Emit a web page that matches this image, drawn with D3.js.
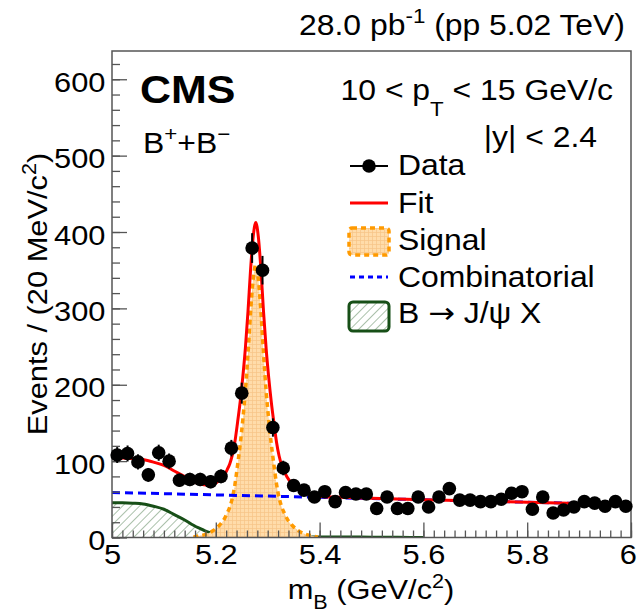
<!DOCTYPE html>
<html>
<head>
<meta charset="utf-8">
<script src="https://cdn.jsdelivr.net/npm/d3@7"></script>
<style>
body { margin: 0; background: #fff; }
text { font-family: "Liberation Sans", Arial, sans-serif; fill: #000; white-space: pre; }
</style>
</head>
<body>
<svg id="chart" width="638" height="615"></svg>
<script>
// B+ mass spectrum, 50 bins of 20 MeV between 5.0 and 6.0 GeV
var binLow = 5.0, binWidth = 0.02;
var counts = [108, 110, 99, 82, 111, 100, 75, 76, 76, 73,
              80, 117, 189, 379, 350, 144, 91, 68, 62, 53,
              60, 47, 59, 57, 57, 38, 53, 38, 38, 53,
              40, 53, 64, 49, 49, 47, 47, 50, 58, 60,
              37, 53, 32, 36, 40, 47, 45, 41, 47, 41];

// fit components at these masses
var curveMass = [5.00, 5.02, 5.04, 5.06, 5.08, 5.10, 5.12, 5.14,
                 5.157, 5.167, 5.177, 5.187, 5.197, 5.207, 5.217,
                 5.222, 5.227, 5.232, 5.237, 5.242, 5.247, 5.252, 5.257, 5.262, 5.267, 5.272, 5.277,
                 5.282, 5.287, 5.292, 5.297, 5.302, 5.307, 5.312, 5.317, 5.322, 5.327, 5.332, 5.337,
                 5.347, 5.357, 5.367, 5.377, 5.387, 5.397,
                 5.42, 5.45, 5.50, 5.55, 5.60,
                 5.70, 5.80, 5.90, 6.00];
var fitCurve = [104.5, 104.2, 103.4, 102.0, 98.7, 94.4, 87.1, 79.8,
                73.0, 70.8, 69.2, 68.8, 70.5, 74.9, 82.5,
                89.0, 96.7, 108.4, 126.2, 151.1, 178.0, 210.0, 247.9, 295.8, 350.7, 393.6, 412.6,
                393.5, 350.4, 295.3, 247.2, 209.1, 177.0, 149.9, 124.8, 106.7, 94.7, 86.6, 79.5,
                70.3, 64.1, 59.9, 57.3, 55.6, 53.9,
                53.0, 52.4, 51.4, 50.4, 49.4,
                47.8, 46.2, 44.6, 43.0];
var signalCurve = [null, null, null, null, null, null, null, null,
                   0.5, 2, 3.5, 6, 10, 16, 25,
                   32, 40, 52, 70, 95, 122, 154, 192, 240, 295, 338, 357,
                   338, 295, 240, 192, 154, 122, 95, 70, 52, 40, 32, 25,
                   16, 10, 6, 3.5, 2, 0.5,
                   null, null, null, null, null,
                   null, null, null, null];
var jpsiCurve = [45.5, 45.5, 45.0, 44.0, 41.0, 37.0, 30.0, 23.0,
                 16.0, 12.5, 9.5, 6.8, 4.7, 3.2, 2.0,
                 1.6, 1.3, 1.1, 1.0, 1.0, 1.0, 1.0, 1.0, 1.0, 1.0, 1.0, 1.0,
                 1.0, 1.0, 1.0, 1.0, 0.9, 0.9, 0.9, 0.9, 0.9, 0.9, 0.9, 0.9,
                 0.9, 0.9, 0.8, 0.8, 0.8, 0.8,
                 0.7, 0.6, 0.4, 0.2, 0.0,
                 null, null, null, null];
var combMass = [5.0, 6.0];
var combCurve = [59, 43];

var xTicks = [5, 5.2, 5.4, 5.6, 5.8, 6];
var yTicks = [0, 100, 200, 300, 400, 500, 600];

var svg = d3.select("#chart");
svg.append("rect").attr("width", 638).attr("height", 615).attr("fill", "#fff");

// note: plain "top" clashes with window.top
var pLeft = 112, pRight = 631, pTop = 51, pBottom = 537.5;
var x = d3.scaleLinear().domain([5, 6]).range([pLeft, pRight]);
var y = d3.scaleLinear().domain([0, 637]).range([pBottom, pTop]);

// text in the reference is a little wider than liberation sans
var sx = 1.1;
function label(g, tx, ty, size, anchor, parts, weight, rot) {
    var t = g.append("text")
        .attr("transform", "translate(" + tx + "," + ty + ")" + (rot ? " rotate(" + rot + ")" : "") + " scale(" + sx + ",1)")
        .attr("text-anchor", anchor)
        .style("font-size", size + "px")
        .style("font-weight", weight || "normal");
    var shift = 0;
    parts.forEach(function(p) {
        if (typeof p === "string") p = [p, 0];
        var off = p[1] * size;
        var ts = t.append("tspan")
            .attr("dy", off - shift)
            .style("font-size", (p[1] ? 0.7 * size : size) + "px")
            .text(p[0]);
        if (p[2]) ts.style("font-family", p[2]);
        shift = off;
    });
    return t;
}

var defs = svg.append("defs");
defs.append("clipPath").attr("id", "plotclip")
    .append("rect").attr("x", pLeft).attr("y", pTop).attr("width", pRight - pLeft).attr("height", pBottom - pTop);

var sigPat = defs.append("pattern").attr("id", "sigfill")
    .attr("patternUnits", "userSpaceOnUse").attr("width", 4).attr("height", 4);
sigPat.append("rect").attr("width", 4).attr("height", 4).attr("fill", "#ffdcaa");
sigPat.append("path").attr("d", "M0.5,0V4M0,0.5H4").attr("stroke", "#f6c486").attr("stroke-width", 0.7);

var hatch = defs.append("pattern").attr("id", "hatch")
    .attr("patternUnits", "userSpaceOnUse").attr("width", 6).attr("height", 6)
    .attr("patternTransform", "rotate(45)");
hatch.append("rect").attr("width", 6).attr("height", 6).attr("fill", "#fff");
hatch.append("line").attr("x1", 0).attr("y1", 0).attr("x2", 0).attr("y2", 6)
    .attr("stroke", "#7d9f7d").attr("stroke-width", 1.3);

function pts(vals, masses) {
    return (masses || curveMass).map(function(m, i) { return [m, vals[i]]; });
}
var has = function(d) { return d[1] != null; };
var line = d3.line().defined(has).x(function(d) { return x(d[0]); }).y(function(d) { return y(d[1]); })
    .curve(d3.curveMonotoneX);
var area = d3.area().defined(has).x(function(d) { return x(d[0]); }).y0(y(0)).y1(function(d) { return y(d[1]); })
    .curve(d3.curveMonotoneX);

var plot = svg.append("g").attr("clip-path", "url(#plotclip)");

// B -> J/psi X
plot.append("path").attr("d", area(pts(jpsiCurve))).attr("fill", "url(#hatch)");
plot.append("path").attr("d", line(pts(jpsiCurve))).attr("fill", "none")
    .attr("stroke", "#174f17").attr("stroke-width", 3);

// signal
plot.append("path").attr("d", area(pts(signalCurve))).attr("fill", "url(#sigfill)");
plot.append("path").attr("d", line(pts(signalCurve))).attr("fill", "none")
    .attr("stroke", "#ff9a00").attr("stroke-width", 3.5).attr("stroke-dasharray", "5,4");

// combinatorial
plot.append("path").attr("d", line(pts(combCurve, combMass))).attr("fill", "none")
    .attr("stroke", "#0000ff").attr("stroke-width", 3).attr("stroke-dasharray", "8,5");

// total fit
plot.append("path").attr("d", line(pts(fitCurve))).attr("fill", "none")
    .attr("stroke", "#ff0000").attr("stroke-width", 3);

// frame and ticks
svg.append("rect").attr("x", pLeft).attr("y", pTop).attr("width", pRight - pLeft).attr("height", pBottom - pTop)
    .attr("fill", "none").attr("stroke", "#555").attr("stroke-width", 1.5);

var yMinor = d3.range(0, 637, 20);
var xMinor = d3.range(0, 51).map(function(i) { return 5 + i * 0.02; });

var yAxisMinor = svg.append("g").attr("transform", "translate(" + pLeft + ",0)")
    .call(d3.axisLeft(y).tickValues(yMinor).tickSize(-8).tickFormat(""));
var yAxis = svg.append("g").attr("transform", "translate(" + pLeft + ",0)")
    .call(d3.axisLeft(y).tickValues(yTicks).tickSize(-15).tickPadding(6).tickFormat(d3.format("d")));
var xAxisMinor = svg.append("g").attr("transform", "translate(0," + pBottom + ")")
    .call(d3.axisBottom(x).tickValues(xMinor).tickSize(-7).tickFormat(""));
var xAxis = svg.append("g").attr("transform", "translate(0," + pBottom + ")")
    .call(d3.axisBottom(x).tickValues(xTicks).tickSize(-15).tickPadding(7).tickFormat(d3.format("")));

[yAxisMinor, yAxis, xAxisMinor, xAxis].forEach(function(a) {
    a.select(".domain").remove();
    a.selectAll(".tick line").attr("stroke", "#555").attr("stroke-width", 1.3);
});
yAxis.selectAll("text").attr("dy", "0.43em");
[yAxis, xAxis].forEach(function(a) {
    a.selectAll("text")
        .attr("fill", "#000")
        .style("font-family", "Liberation Sans, Arial, sans-serif")
        .style("font-size", "28px")
        .attr("transform", "scale(" + sx + ",1)");
});
// the last label sits on the page edge, pull it in a little
xAxis.selectAll("text").filter(function(d) { return d === 6; }).attr("x", -3);

// data points with poisson errors
var binCenters = counts.map(function(c, i) { return binLow + binWidth * (i + 0.5); });
var pg = svg.append("g");
pg.selectAll("line.err").data(counts).enter().append("line")
    .attr("class", "err")
    .attr("x1", function(d, i) { return x(binCenters[i]); })
    .attr("x2", function(d, i) { return x(binCenters[i]); })
    .attr("y1", function(d) { return y(d + Math.sqrt(d)); })
    .attr("y2", function(d) { return y(d - Math.sqrt(d)); })
    .attr("stroke", "#000").attr("stroke-width", 2);
pg.selectAll("circle").data(counts).enter().append("circle")
    .attr("cx", function(d, i) { return x(binCenters[i]); })
    .attr("cy", function(d) { return y(d); })
    .attr("r", 6.8).attr("fill", "#000");

// titles
label(svg, 625, 35, 29, "end", ["28.0 pb", ["-1", -0.4], ["\u00a0(pp 5.02 TeV)", 0]]);
label(svg, 371, 599, 28, "middle", ["m", ["B", 0.35], [" (GeV/c", 0], ["2", -0.4], [")", 0]]);
label(svg, 47, 294, 28, "middle", ["Events / (20 MeV/c", ["2", -0.4], [")", 0]], null, -90);

label(svg, 140, 103, 39, "start", ["CMS"], "bold");
label(svg, 143, 153, 29, "start", ["B", ["+", -0.4], ["+B", 0], ["\u2212", -0.4]]);
label(svg, 613, 100, 29, "end", ["10 < p", ["T", 0.55], [" < 15 GeV/c", 0]]);
label(svg, 597, 147, 29, "end", ["|y| < 2.4"]);

// legend
var leg = svg.append("g");
var legX = 398, legRows = [175, 212.7, 250, 286.7, 323.3];
leg.append("line").attr("x1", 350).attr("x2", 388).attr("y1", 166).attr("y2", 166)
    .attr("stroke", "#000").attr("stroke-width", 2);
leg.append("circle").attr("cx", 369).attr("cy", 166).attr("r", 6.8).attr("fill", "#000");
leg.append("line").attr("x1", 350).attr("x2", 388).attr("y1", 203).attr("y2", 203)
    .attr("stroke", "#ff0000").attr("stroke-width", 3);
leg.append("rect").attr("x", 349).attr("y", 228).attr("width", 40).attr("height", 27).attr("rx", 3)
    .attr("fill", "url(#sigfill)").attr("stroke", "#ff9a00").attr("stroke-width", 3.5)
    .attr("stroke-dasharray", "5,4");
leg.append("line").attr("x1", 350).attr("x2", 388).attr("y1", 277).attr("y2", 277)
    .attr("stroke", "#0000ff").attr("stroke-width", 3).attr("stroke-dasharray", "5,4");
leg.append("rect").attr("x", 349).attr("y", 302).attr("width", 40).attr("height", 29).attr("rx", 4)
    .attr("fill", "url(#hatch)").attr("stroke", "#174f17").attr("stroke-width", 3);

label(leg, legX, legRows[0], 29, "start", ["Data"]);
label(leg, legX, legRows[1], 29, "start", ["Fit"]);
label(leg, legX, legRows[2], 29, "start", ["Signal"]);
label(leg, legX, legRows[3], 29, "start", ["Combinatorial"]);
label(leg, legX, legRows[4], 29, "start", ["B ", ["\u2192", 0, "DejaVu Sans"], [" J/\u03c8 X", 0]]);
</script>
</body>
</html>
